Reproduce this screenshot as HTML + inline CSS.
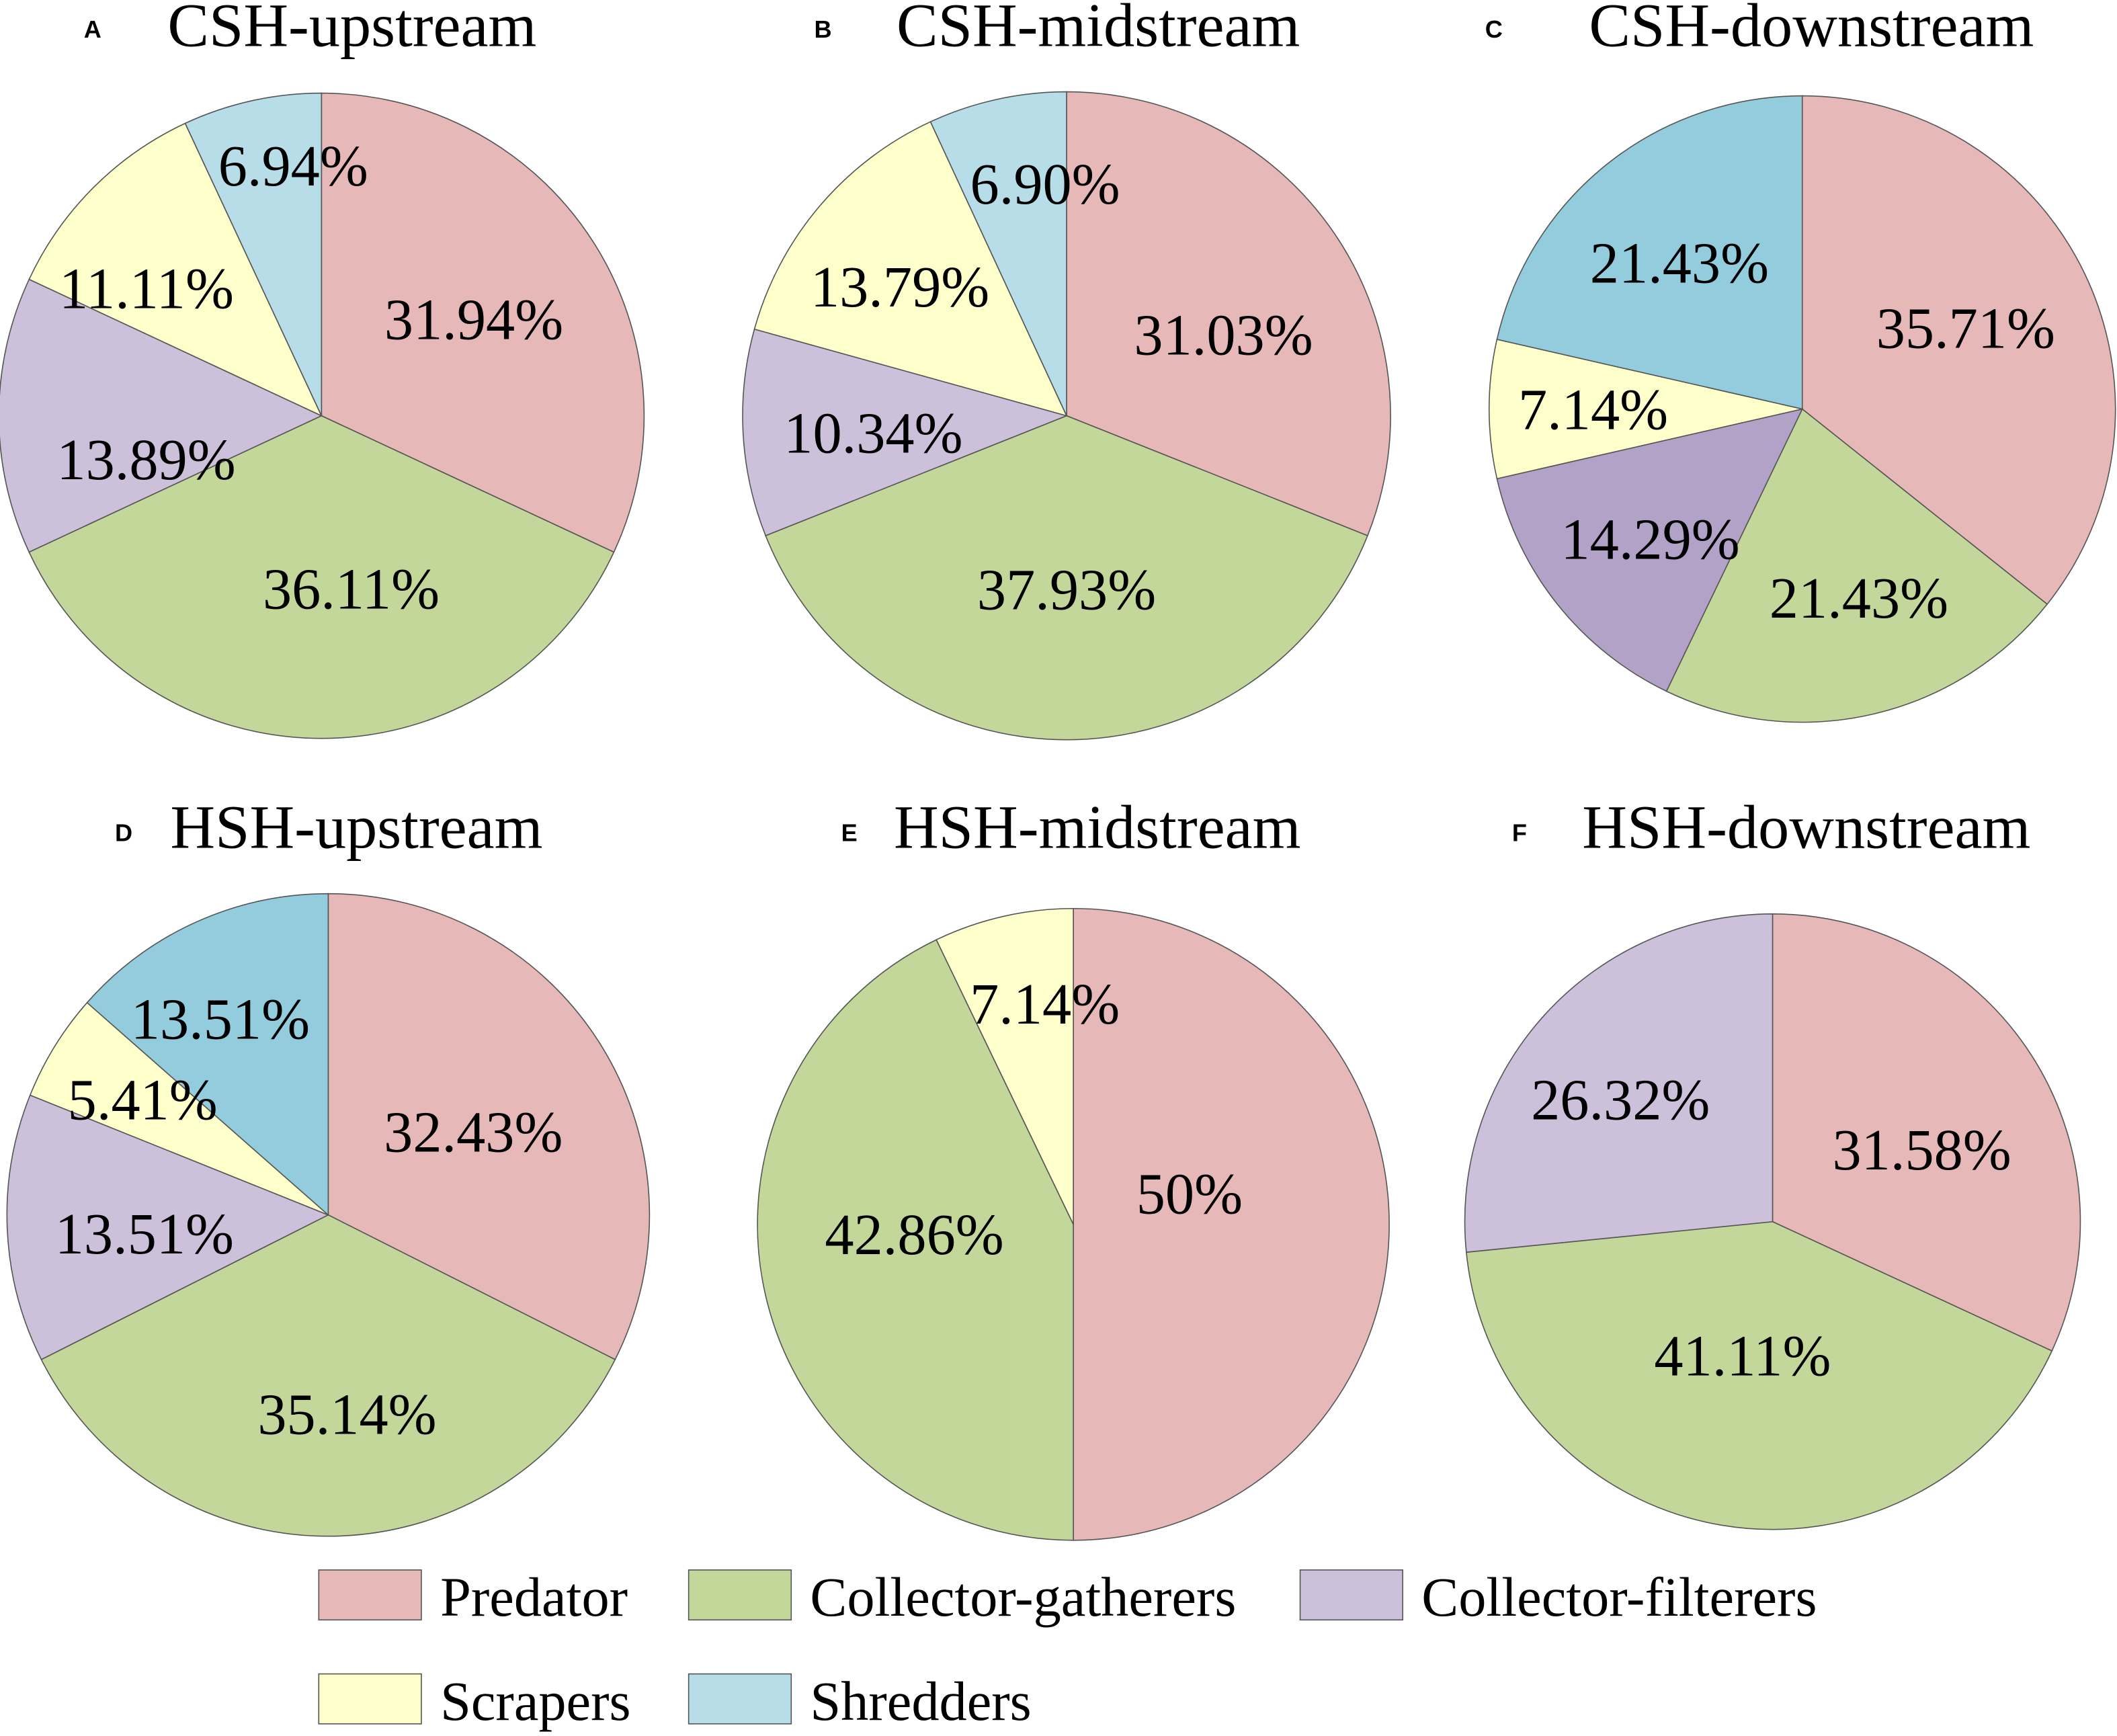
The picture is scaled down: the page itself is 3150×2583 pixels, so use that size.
<!DOCTYPE html>
<html><head><meta charset="utf-8"><style>
html,body{margin:0;padding:0;background:#fff;}
svg{display:block;}
</style></head><body>
<svg id="chart" width="3150" height="2583" viewBox="0 0 1568 1286" xmlns="http://www.w3.org/2000/svg">
<g id="pies"></g>
<g id="legend"></g>
</svg>
<script>
const panelTitles = ["CSH-upstream","CSH-midstream","CSH-downstream","HSH-upstream","HSH-midstream","HSH-downstream"];
const panelLetters = ["A","B","C","D","E","F"];
const categories = ["Predator","Collector-gatherers","Collector-filterers","Scrapers","Shredders"];
const valuesA = [31.94,36.11,13.89,11.11,6.94];
const valuesB = [31.03,37.93,10.34,13.79,6.90];
const valuesC = [35.71,21.43,14.29,7.14,21.43];
const valuesD = [32.43,35.14,13.51,5.41,13.51];
const valuesE = [50,42.86,0,7.14,0];
const valuesF = [31.58,41.11,26.32,0,0];
const labelsA = ["31.94%","36.11%","13.89%","11.11%","6.94%"];
const labelsB = ["31.03%","37.93%","10.34%","13.79%","6.90%"];
const labelsC = ["35.71%","21.43%","14.29%","7.14%","21.43%"];
const labelsD = ["32.43%","35.14%","13.51%","5.41%","13.51%"];
const labelsE = ["50%","42.86%","","7.14%",""];
const labelsF = ["31.58%","41.11%","26.32%","",""];

const allValues=[valuesA,valuesB,valuesC,valuesD,valuesE,valuesF];
const allLabels=[labelsA,labelsB,labelsC,labelsD,labelsE,labelsF];
const nudges=[
 [[0,0],[22,-6],[4,32],[-35,0],[8,-55]],
 [[5,15],[0,-6],[-9,5],[-21,-9],[13,-41]],
 [[4,-4],[13,13],[-11,15],[-25,0],[-10,-7]],
 [[-6,8],[14,14],[-3,8],[-24,-16],[-25,-24]],
 [[-45,-23],[10,-22],[0,0],[8,-36],[0,0]],
 [[3,15],[-1,-27],[-18,-5],[0,0],[0,0]]];
const baseColors=["#e6b9b8","#c4d79b","#ccc0da","#ffffcc","#b7dee8"];
const panelColors=[
 baseColors, baseColors,
 ["#e6b9b8","#c4d79b","#b3a2c7","#ffffcc","#93cddd"],
 ["#e6b9b8","#c4d79b","#ccc0da","#ffffcc","#93cddd"],
 baseColors, baseColors];
const geom=[
 {cx:238,cy:308,rx:239,ry:239,lx:62,ly:28,tx:124,ty:34},
 {cx:790,cy:308,rx:240,ry:240,lx:603,ly:28,tx:664,ty:34},
 {cx:1335,cy:303,rx:232,ry:232,lx:1100,ly:28,tx:1177,ty:34},
 {cx:243,cy:900,rx:238,ry:238,lx:85,ly:623,tx:126,ty:628},
 {cx:795,cy:907,rx:234,ry:234,lx:623,ly:623,tx:662,ty:628},
 {cx:1313,cy:905,rx:228,ry:228,lx:1120,ly:623,tx:1172,ty:628}];
const SERIF='"Liberation Serif", serif';
const NS="http://www.w3.org/2000/svg";
const pies=document.getElementById('pies');
function mk(t,a,p){const e=document.createElementNS(NS,t);for(const k in a)e.setAttribute(k,a[k]);p.appendChild(e);return e;}
function pt(g,f,s){const a=f*2*Math.PI;return [g.cx+s*g.rx*Math.sin(a),g.cy-s*g.ry*Math.cos(a)];}
allValues.forEach((vals,pi)=>{
 const g=geom[pi];
 const grp=mk('g',{},pies);
 
 
 const lt=mk('text',{x:g.lx,y:g.ly,"font-family":'"Liberation Sans", sans-serif',"font-weight":"bold","font-size":18},grp);lt.textContent=panelLetters[pi];
 
 
 const tt=mk('text',{x:g.tx,y:g.ty,"font-family":SERIF,"font-size":46},grp);tt.textContent=panelTitles[pi];
 
 
 const total=vals.reduce((a,b)=>a+b,0);
 let acc=0;
 vals.forEach((v,i)=>{
  if(v<=0)return;
  const f0=acc/total,f1=(acc+v)/total;acc+=v;
  const p0=pt(g,f0,1),p1=pt(g,f1,1);
  const large=(f1-f0)>0.5?1:0;
  const d=`M${g.cx},${g.cy} L${p0[0]},${p0[1]} A${g.rx},${g.ry} 0 ${large} 1 ${p1[0]},${p1[1]} Z`;
  const s=mk('path',{d:d,fill:panelColors[pi][i],stroke:'#555',"stroke-width":0.8},grp);
  
  
 });
 acc=0;
 vals.forEach((v,i)=>{
  if(v<=0){return;}
  const fm=(acc+v/2)/total;acc+=v;
  const p=pt(g,fm,0.56);
  const n=nudges[pi][i];
  const t=mk('text',{x:p[0]+n[0],y:p[1]+n[1]+15,"font-family":SERIF,"font-size":43,"text-anchor":'middle'},grp);
  t.textContent=allLabels[pi][i];
  
  
 });
});
const lg=document.getElementById('legend');
const legendPos=[[236,1163],[510,1163],[963,1163],[236,1240],[510,1240]];
categories.forEach((c,i)=>{
 const [x,y]=legendPos[i];
 const r=mk('rect',{x:x,y:y,width:76,height:37,fill:baseColors[i],stroke:'#555',"stroke-width":0.8},lg);
 
 
 const t=mk('text',{x:x+90,y:y+34,"font-family":SERIF,"font-size":41},lg);t.textContent=c;
 
 
});
</script>
</body></html>
